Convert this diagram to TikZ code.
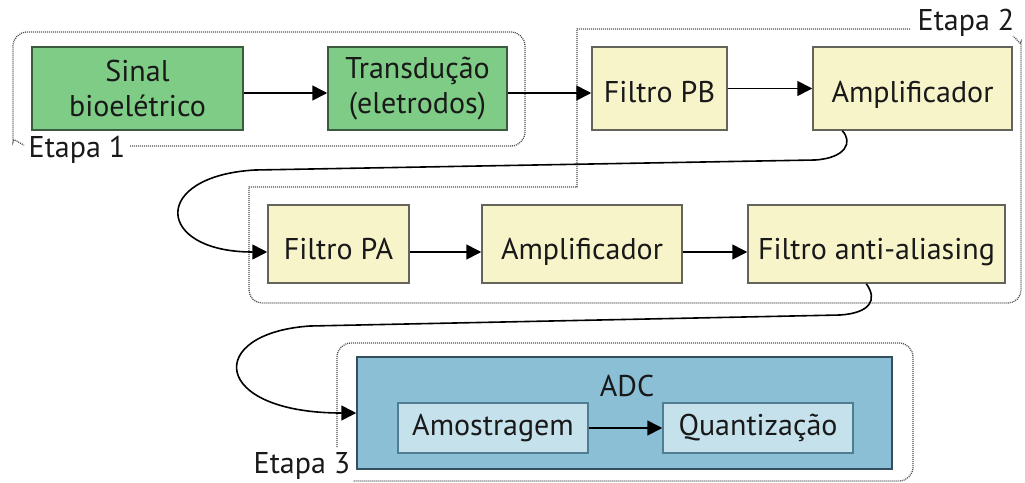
\documentclass[tikz,border=0pt]{standalone}
\usepackage{fontspec}
\setmainfont{PT Sans}
\usetikzlibrary{arrows.meta}
\definecolor{gfill}{RGB}{126,204,133}
\definecolor{gdraw}{RGB}{60,90,62}
\definecolor{yfill}{RGB}{248,244,202}
\definecolor{ydraw}{RGB}{100,100,90}
\definecolor{bfill}{RGB}{138,191,213}
\definecolor{bdraw}{RGB}{50,80,95}
\definecolor{lbfill}{RGB}{197,225,236}
\definecolor{lbdraw}{RGB}{80,125,145}
\definecolor{txt}{RGB}{25,25,25}
\definecolor{stagec}{RGB}{80,80,80}
\begin{document}
\begin{tikzpicture}[x=1pt,y=-1pt,
  base/.style={draw, line width=1.5pt, inner sep=0pt, font=\fontsize{30}{35}\selectfont, text=txt, align=center},
  greenbox/.style={base, fill=gfill, draw=gdraw, minimum height=83pt},
  yellowbox/.style={base, fill=yfill, draw=ydraw},
  adcbox/.style={base, fill=bfill, draw=bdraw},
  innerbox/.style={base, fill=lbfill, draw=lbdraw, minimum width=190pt, minimum height=50pt},
  conn/.style={line width=1.6pt, draw=black, -{Triangle[length=15pt,width=15pt]}},
  stage/.style={draw=stagec, line width=1.3pt, dash pattern=on 1pt off 1pt},
  stagelabel/.style={font=\fontsize{30}{34}\selectfont, text=txt, inner sep=0pt}
]
\useasboundingbox[fill=white] (0,0) rectangle (1025,482);

% stage outlines
\draw[stage, rounded corners=14pt] (130,146) -- (525,146) -- (525,32) -- (13,32) -- (13,128) .. controls (13,137) and (17,142) .. (24,145);
\draw[stage] (910,29) -- (577,29) -- (577,187) -- (249,187) -- (249,200) [rounded corners=13pt] -- (249,303) -- (1021,303) -- (1021,55) .. controls (1021,46) and (1018,40) .. (1013,36);
\draw[stage, rounded corners=14pt] (337,447) -- (337,343) -- (913,343) -- (913,481) -- (353,481);

\node[stagelabel] (e1) at (77,150) {Etapa 1};
\node[stagelabel] (e2) at (966,23) {Etapa 2};
\node[stagelabel] (e3) at (302,466) {Etapa 3};

% row 1
\node[greenbox, minimum width=211pt] (sinal) at (137.5,88.5) {Sinal\\bioelétrico};
\node[greenbox, minimum width=179pt] (trans) at (417.5,88.5) {Transdução\\(eletrodos)};
\node[yellowbox, minimum width=135pt, minimum height=83pt, text height=34.5pt, text depth=6pt] (pb) at (659.5,88.5) {Filtro PB};
\node[yellowbox, minimum width=199pt, minimum height=83pt, text height=34.5pt, text depth=6pt] (amp1) at (912.5,88.5) {Amplificador};

% row 2
\node[yellowbox, minimum width=141pt, minimum height=78pt, text height=36pt, text depth=6pt] (pa) at (338.5,244) {Filtro PA};
\node[yellowbox, minimum width=200pt, minimum height=78pt, text height=36pt, text depth=6pt] (amp2) at (582,244) {Amplificador};
\node[yellowbox, minimum width=257pt, minimum height=78pt, text height=36pt, text depth=6pt] (aa) at (876.5,244) {Filtro anti-aliasing};

% row 3
\node[adcbox, minimum width=535pt, minimum height=112pt] (adc) at (624.5,413) {};
\node[stagelabel] (adclabel) at (627,386) {ADC};
\node[innerbox] (amos) at (493,428) {Amostragem};
\node[innerbox] (quant) at (758,428) {Quantização};

% connectors
\draw[conn] ([yshift=-4.5pt]sinal.east) -- ([yshift=-4.5pt]trans.west);
\draw[conn] ([yshift=-4.5pt]trans.east) -- ([yshift=-4.5pt]pb.west);
\draw[conn] (pb.east) -- (amp1.west);
\draw[conn] ([xshift=30pt]amp1.south west) .. controls (853,142) and (846,158) .. (815,160) -- (255,170) .. controls (150,176) and (155,252) .. ([yshift=-8pt]pa.west);
\draw[conn] ([yshift=-8pt]pa.east) -- ([yshift=-8pt]amp2.west);
\draw[conn] ([yshift=-8pt]amp2.east) -- ([yshift=-8pt]aa.west);
\draw[conn] ([xshift=119pt]aa.south west) .. controls (878,300) and (870,313) .. (840,315) -- (310,326) .. controls (205,333) and (210,413) .. (adc.west);
\draw[conn] (amos.east) -- (quant.west);
\end{tikzpicture}
\end{document}
